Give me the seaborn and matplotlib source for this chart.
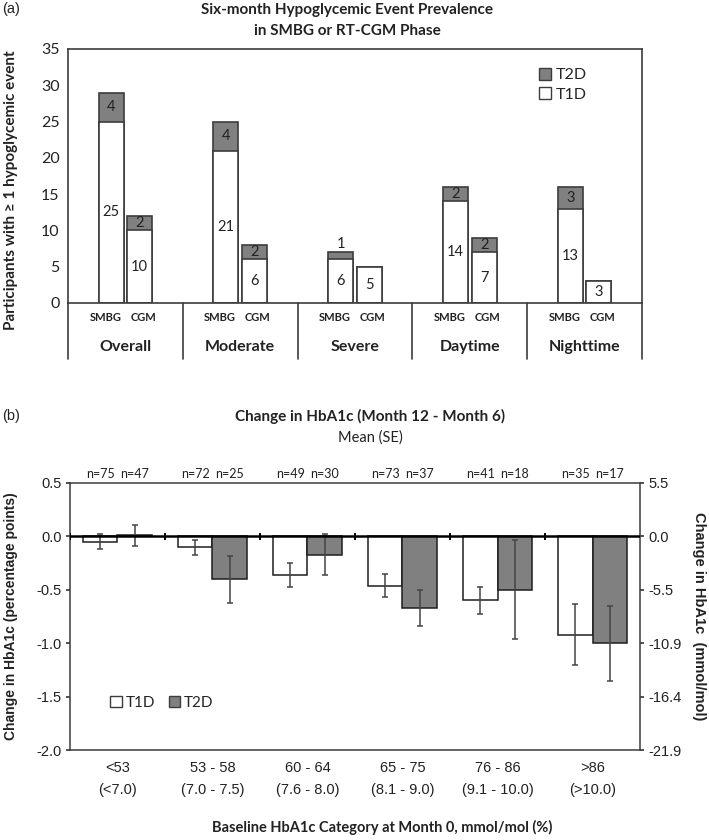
import numpy as np
import pandas as pd
import seaborn as sns
import matplotlib.pyplot as plt
from matplotlib.patches import Patch

# panel (a): participants with >= 1 hypoglycemic event
event_types = ["Overall", "Moderate", "Severe", "Daytime", "Nighttime"]
phases = ["SMBG", "CGM"]
smbg_t1d = [25, 21, 6, 14, 13]
smbg_t2d = [4, 4, 1, 2, 3]
cgm_t1d = [10, 6, 5, 7, 3]
cgm_t2d = [2, 2, 0, 2, 0]

# panel (b): change in HbA1c, mean (SE)
hba1c_mmol = ["<53", "53 - 58", "60 - 64", "65 - 75", "76 - 86", ">86"]
hba1c_pct = ["(<7.0)", "(7.0 - 7.5)", "(7.6 - 8.0)", "(8.1 - 9.0)", "(9.1 - 10.0)", "(>10.0)"]
t1d_mean = [-0.05, -0.10, -0.36, -0.46, -0.60, -0.92]
t1d_se = [0.07, 0.07, 0.11, 0.105, 0.13, 0.285]
t2d_mean = [0.01, -0.40, -0.17, -0.67, -0.50, -1.00]
t2d_se = [0.10, 0.22, 0.19, 0.165, 0.465, 0.35]
t1d_n = [75, 72, 49, 73, 41, 35]
t2d_n = [47, 25, 30, 37, 18, 17]

MMOL_PER_PCT = 10.929

GRAY = "#808080"
EDGE = "#3c3c3c"
TXT = "#222222"
TITLE_FONT = "Lato"
ARIAL = "Liberation Sans"

sns.set_theme(style="white")
plt.rcParams["font.family"] = [TITLE_FONT, "DejaVu Sans"]

fig = plt.figure(figsize=(7.09, 8.40), dpi=100)

# ---------------- panel (a) ----------------
df_a = pd.DataFrame({
    "event": event_types * 2,
    "phase": ["SMBG"] * len(event_types) + ["CGM"] * len(event_types),
    "t1d": smbg_t1d + cgm_t1d,
    "t2d": smbg_t2d + cgm_t2d,
})
df_a["total"] = df_a["t1d"] + df_a["t2d"]

ax1 = fig.add_axes([0.0959, 0.6393, 0.8096, 0.3024])
common = dict(data=df_a, x="event", hue="phase", order=event_types,
              hue_order=phases, width=0.5, gap=0.13, edgecolor=EDGE,
              linewidth=1.2, legend=False, ax=ax1)
sns.barplot(y="total", palette={"SMBG": GRAY, "CGM": GRAY}, **common)
sns.barplot(y="t1d", palette={"SMBG": "white", "CGM": "white"}, **common)

offsets = {"SMBG": -0.125, "CGM": 0.125}
for _, row in df_a.iterrows():
    xc = event_types.index(row["event"]) + offsets[row["phase"]]
    ax1.text(xc, row["t1d"] / 2, str(row["t1d"]), ha="center", va="center",
             fontsize=10.5, color=TXT)
    if row["t2d"] >= 2:
        ax1.text(xc, row["t1d"] + row["t2d"] / 2, str(row["t2d"]),
                 ha="center", va="center", fontsize=10.5, color=TXT)
    elif row["t2d"] == 1:
        ax1.text(xc, row["total"] + 1.1, str(row["t2d"]),
                 ha="center", va="center", fontsize=10.5, color=TXT)

ax1.set_ylim(0, 35)
ax1.set_xlim(-0.5, len(event_types) - 0.5)
ax1.set_yticks(range(0, 36, 5))
ax1.set_yticklabels([str(v) for v in range(0, 36, 5)], fontsize=11.5, color=TXT)
ax1.tick_params(axis="y", length=0, pad=6)
ax1.set_xticks([])
ax1.set_xlabel("")
ax1.set_ylabel("")
for sp in ax1.spines.values():
    sp.set_color(EDGE)
    sp.set_linewidth(1.2)

# inner (phase) and outer (event type) category labels
label_off = {"SMBG": -0.175, "CGM": 0.155}
xt = ax1.get_xaxis_transform()
for i, name in enumerate(event_types):
    for ph in phases:
        ax1.text(i + label_off[ph], -0.058, ph, transform=xt, ha="center",
                 va="center", fontsize=8, fontweight="bold", color=TXT)
    ax1.text(i, -0.175, name, transform=xt, ha="center", va="center",
             fontsize=11.5, fontweight="bold", color=TXT)
for xb in np.arange(-0.5, len(event_types), 1.0):
    ax1.plot([xb, xb], [0, -0.22], transform=xt, color=EDGE, lw=1.2,
             clip_on=False)

ax1.legend(handles=[Patch(facecolor=GRAY, edgecolor=EDGE, label="T2D"),
                    Patch(facecolor="white", edgecolor=EDGE, label="T1D")],
           loc="upper left", bbox_to_anchor=(0.81, 0.95), frameon=False,
           fontsize=11.5, handlelength=0.75, handleheight=0.75,
           handletextpad=0.25, labelspacing=0.3, borderaxespad=0)

fig.text(0.49, 1 - 10 / 840, "Six-month Hypoglycemic Event Prevalence",
         ha="center", va="center", fontsize=11, fontweight="bold", color=TXT)
fig.text(0.49, 1 - 31 / 840, "in SMBG or RT-CGM Phase",
         ha="center", va="center", fontsize=11, fontweight="bold", color=TXT)
fig.text(11 / 709, 1 - 190 / 840, "Participants with \u2265 1 hypoglycemic event",
         rotation=90, ha="center", va="center", fontsize=11,
         fontweight="bold", color=TXT)
fig.text(0.003, 1 - 9 / 840, "(a)", ha="left", va="center", fontsize=10.5,
         family=ARIAL, color=TXT)

# ---------------- panel (b) ----------------
df_b = pd.DataFrame({
    "cat": hba1c_mmol * 2,
    "group": ["T1D"] * len(hba1c_mmol) + ["T2D"] * len(hba1c_mmol),
    "mean": t1d_mean + t2d_mean,
    "se": t1d_se + t2d_se,
    "n": t1d_n + t2d_n,
})

ax2 = fig.add_axes([0.0987, 0.1071, 0.8040, 0.3179])
sns.barplot(data=df_b, x="cat", y="mean", hue="group", order=hba1c_mmol,
            hue_order=["T1D", "T2D"], palette={"T1D": "white", "T2D": GRAY},
            width=0.72, edgecolor="#1e1e1e", linewidth=1.1, errorbar=None,
            legend=False, ax=ax2)

grp_off = {"T1D": -0.18, "T2D": 0.18}
xpos = [hba1c_mmol.index(c) + grp_off[g] for c, g in zip(df_b["cat"], df_b["group"])]
ax2.errorbar(xpos, df_b["mean"], yerr=df_b["se"], fmt="none",
             ecolor="#444444", elinewidth=1.1, capsize=2.5, capthick=1.1)

ax2.axhline(0, color="black", lw=1.8, zorder=5)
ax2.vlines(np.arange(-0.5, len(hba1c_mmol) - 1, 1.0), -0.035, 0.035,
           color="black", lw=1.4, zorder=5)

ax2.set_xlim(-0.5, len(hba1c_mmol) - 0.5)
ax2.set_ylim(-2.0, 0.5)
yt = [0.5, 0.0, -0.5, -1.0, -1.5, -2.0]
ax2.set_yticks(yt)
ax2.set_yticklabels([f"{v:.1f}" for v in yt], fontsize=10.5, family=ARIAL,
                    color=TXT)
ax2.set_xticks(range(len(hba1c_mmol)))
ax2.set_xticklabels([f"{m}\n{p}" for m, p in zip(hba1c_mmol, hba1c_pct)],
                    fontsize=10.5, family=ARIAL, color=TXT, linespacing=1.75)
ax2.tick_params(axis="x", length=0, pad=8)
ax2.tick_params(axis="y", length=3, color=EDGE, pad=3, left=True)
ax2.set_xlabel("")
ax2.set_ylabel("")
for sp in ax2.spines.values():
    sp.set_color(EDGE)
    sp.set_linewidth(1.1)

xt2 = ax2.get_xaxis_transform()
for x, n in zip(xpos, df_b["n"]):
    ax2.text(x, 1.035, f"n={n}", transform=xt2, ha="center", va="center",
             fontsize=9, color=TXT)

ax3 = ax2.twinx()
ax3.set_ylim(-2.0 * MMOL_PER_PCT, 0.5 * MMOL_PER_PCT)
ax3.set_yticks([v * MMOL_PER_PCT for v in yt])
ax3.set_yticklabels([f"{v * MMOL_PER_PCT:.1f}" for v in yt], fontsize=10.5,
                    family=ARIAL, color=TXT)
ax3.tick_params(axis="y", length=3, color=EDGE, pad=3, right=True)
ax3.grid(False)
for sp in ax3.spines.values():
    sp.set_visible(False)

ax2.legend(handles=[Patch(facecolor="white", edgecolor=EDGE, label="T1D"),
                    Patch(facecolor=GRAY, edgecolor=EDGE, label="T2D")],
           loc="center left", bbox_to_anchor=(0.06, 0.176), ncol=2,
           frameon=False, fontsize=11, handlelength=0.75, handleheight=0.75,
           handletextpad=0.25, columnspacing=0.9, borderaxespad=0)

fig.text(370 / 709, 1 - 416 / 840, "Change in HbA1c (Month 12 - Month 6)",
         ha="center", va="center", fontsize=11, fontweight="bold", color=TXT)
fig.text(370 / 709, 1 - 438 / 840, "Mean (SE)", ha="center", va="center",
         fontsize=10.5, color=TXT)
fig.text(0.003, 1 - 416 / 840, "(b)", ha="left", va="center", fontsize=10.5,
         family=ARIAL, color=TXT)
fig.text(11 / 709, 1 - 616 / 840, "Change in HbA1c (percentage points)",
         rotation=90, ha="center", va="center", fontsize=10,
         fontweight="bold", family=ARIAL, color=TXT)
fig.text(699 / 709, 1 - 616 / 840, "Change in HbA1c  (mmol/mol)",
         rotation=270, ha="center", va="center", fontsize=10.5,
         fontweight="bold", family=ARIAL, color=TXT)
fig.text(382 / 709, 1 - 827 / 840, "Baseline HbA1c Category at Month 0, mmol/mol (%)",
         ha="center", va="center", fontsize=10.5, fontweight="bold", color=TXT)

fig.savefig("out.png", dpi=100, facecolor="white")
